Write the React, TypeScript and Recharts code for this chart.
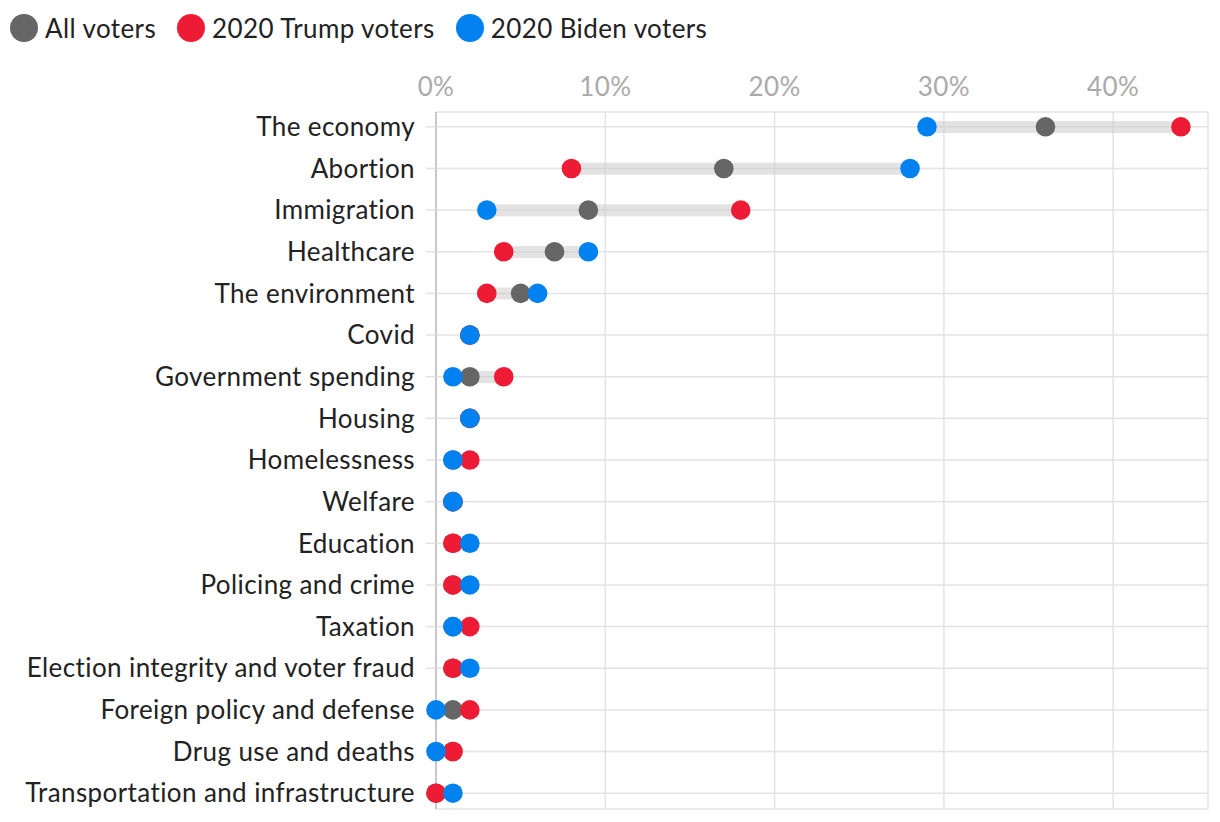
import React from 'react';
import { ComposedChart, Bar, Line, XAxis, YAxis, CartesianGrid } from 'recharts';

const categories = [
  'The economy',
  'Abortion',
  'Immigration',
  'Healthcare',
  'The environment',
  'Covid',
  'Government spending',
  'Housing',
  'Homelessness',
  'Welfare',
  'Education',
  'Policing and crime',
  'Taxation',
  'Election integrity and voter fraud',
  'Foreign policy and defense',
  'Drug use and deaths',
  'Transportation and infrastructure',
];

const allVoters = [36, 17, 9, 7, 5, 2, 2, 2, 1, 1, 1, 1, 1, 1, 1, 1, 0];
const trumpVoters = [44, 8, 18, 4, 3, 2, 4, 2, 2, 1, 1, 1, 2, 1, 2, 1, 0];
const bidenVoters = [29, 28, 3, 9, 6, 2, 1, 2, 1, 1, 2, 2, 1, 2, 0, 0, 1];

const xTicks = [0, 10, 20, 30, 40];

const GREY = '#666666';
const RED = '#ee1b34';
const BLUE = '#0081f0';
const FONT = 'Lato, "Noto Sans", sans-serif';

const data = categories.map((name, i) => {
  const vals = [allVoters[i], trumpVoters[i], bidenVoters[i]];
  return {
    name,
    all: allVoters[i],
    trump: trumpVoters[i],
    biden: bidenVoters[i],
    range: [Math.min(...vals), Math.max(...vals)],
  };
});

const legendItems = [
  { label: 'All voters', color: GREY },
  { label: '2020 Trump voters', color: RED },
  { label: '2020 Biden voters', color: BLUE },
];

export default function App() {
  return (
    <div style={{ position: 'absolute', left: 0, top: 0, width: 1220, height: 822, background: '#fff', fontFamily: FONT }}>
      <div style={{ position: 'absolute', left: 10, top: 12, display: 'flex', alignItems: 'center' }}>
        {legendItems.map((it) => (
          <div key={it.label} style={{ display: 'flex', alignItems: 'center', marginRight: 21 }}>
            <span style={{ width: 28, height: 28, borderRadius: '50%', background: it.color, display: 'inline-block', marginRight: 7 }} />
            <span style={{ fontSize: 26, letterSpacing: 0.4, color: '#222' }}>{it.label}</span>
          </div>
        ))}
      </div>
      <ComposedChart
        layout="vertical"
        width={1220}
        height={822}
        data={data}
        margin={{ top: 72, right: 12, bottom: 13, left: 0 }}
      >
        <CartesianGrid stroke="#e3e3e3" strokeWidth={1.5} />
        <XAxis
          type="number"
          orientation="top"
          domain={[0, 45.6]}
          ticks={xTicks}
          tickFormatter={(v) => `${v}%`}
          axisLine={false}
          tickLine={false}
          tickSize={0}
          tickMargin={16}
          height={40}
          tick={{ fill: '#aaaaaa', fontSize: 26, fontFamily: FONT, letterSpacing: 0.4 }}
        />
        <YAxis
          type="category"
          dataKey="name"
          width={436}
          interval={0}
          padding={{ top: -6, bottom: -5 }}
          axisLine={{ stroke: '#c8c8c8', strokeWidth: 2 }}
          tickLine={{ stroke: '#e3e3e3', strokeWidth: 1.5 }}
          tickSize={10}
          tickMargin={11}
          tick={{ fill: '#222', fontSize: 26, fontFamily: FONT, letterSpacing: 0.4 }}
        />
        <Bar dataKey="range" barSize={12} fill="#c8c8c8" fillOpacity={0.5} isAnimationActive={false} />
        <Line
          dataKey="all"
          stroke="none"
          strokeWidth={0}
          dot={{ r: 9.8, fill: GREY, stroke: 'none', strokeWidth: 0 }}
          activeDot={false}
          isAnimationActive={false}
        />
        <Line
          dataKey="trump"
          stroke="none"
          strokeWidth={0}
          dot={{ r: 9.8, fill: RED, stroke: 'none', strokeWidth: 0 }}
          activeDot={false}
          isAnimationActive={false}
        />
        <Line
          dataKey="biden"
          stroke="none"
          strokeWidth={0}
          dot={{ r: 9.8, fill: BLUE, stroke: 'none', strokeWidth: 0 }}
          activeDot={false}
          isAnimationActive={false}
        />
      </ComposedChart>
    </div>
  );
}
